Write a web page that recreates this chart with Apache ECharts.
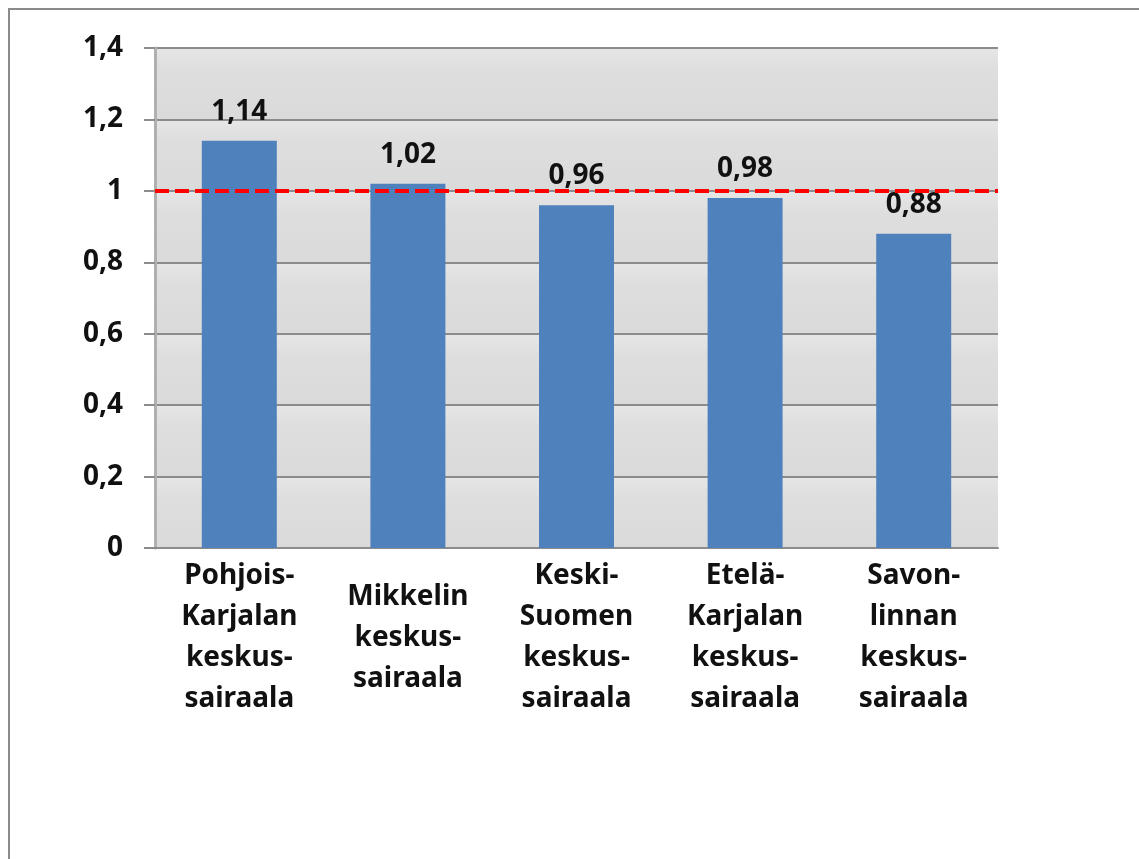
<!DOCTYPE html>
<html>
<head>
<meta charset="utf-8">
<script src="https://cdn.jsdelivr.net/npm/echarts@6/dist/echarts.min.js"></script>
<style>
html,body{margin:0;padding:0;background:#fff;}
#chart{width:1139px;height:859px;}
#frame{position:absolute;left:8px;top:8px;width:1140px;height:860px;border-left:2px solid #8a8a8a;border-top:2px solid #8a8a8a;pointer-events:none;}
</style>
</head>
<body>
<div id="chart"></div>
<div id="frame"></div>
<script>
const categories = [
  "Pohjois-\nKarjalan\nkeskus-\nsairaala",
  "Mikkelin\nkeskus-\nsairaala",
  "Keski-\nSuomen\nkeskus-\nsairaala",
  "Etelä-\nKarjalan\nkeskus-\nsairaala",
  "Savon-\nlinnan\nkeskus-\nsairaala"
];
const values = [1.14, 1.02, 0.96, 0.98, 0.88];
const referenceValue = 1;
const yMin = 0, yMax = 1.4, yInterval = 0.2;

const fmt = v => String(Math.round(v * 100) / 100).replace('.', ',');
const font = '"Noto Sans", sans-serif';

const chart = echarts.init(document.getElementById('chart'));
chart.setOption({
  backgroundColor: '#ffffff',
  animation: false,
  grid: { left: 155, right: 141, top: 48, bottom: 311 },
  xAxis: {
    type: 'category',
    data: categories,
    axisLine: { show: true, lineStyle: { color: '#8c8c8c', width: 2 } },
    axisTick: { show: false },
    axisLabel: {
      interval: 0,
      margin: 90,
      verticalAlign: 'middle',
      color: '#111',
      fontFamily: font,
      fontWeight: 'bold',
      fontSize: 28,
      lineHeight: 41,
      align: 'center'
    }
  },
  yAxis: {
    type: 'value',
    min: yMin, max: yMax, interval: yInterval,
    axisLine: { show: true, lineStyle: { color: '#b0b0b0', width: 3 } },
    axisTick: { show: true, inside: false, length: 11, lineStyle: { color: '#8c8c8c', width: 2 } },
    axisLabel: {
      margin: 32,
      color: '#111',
      fontFamily: font,
      fontWeight: 'bold',
      fontSize: 28,
      formatter: fmt
    },
    splitLine: { show: true, lineStyle: { color: '#8c8c8c', width: 2 } },
    splitArea: {
      show: true,
      areaStyle: {
        color: [new echarts.graphic.LinearGradient(0, 0, 0, 1, [
          { offset: 0, color: '#e6e6e6' },
          { offset: 0.3, color: '#dedede' },
          { offset: 1, color: '#dadada' }
        ])]
      }
    }
  },
  series: [{
    type: 'bar',
    data: values,
    barWidth: 75,
    itemStyle: { color: '#4f81bd' },
    label: {
      show: true,
      position: 'top',
      distance: 15,
      color: '#111',
      fontFamily: font,
      fontWeight: 'bold',
      fontSize: 28,
      formatter: p => fmt(p.value)
    },
    markLine: {
      silent: true,
      symbol: 'none',
      label: { show: false },
      lineStyle: { color: '#ff0000', width: 4, type: [14, 6] },
      data: [{ yAxis: referenceValue }]
    }
  }]
});
</script>
</body>
</html>
